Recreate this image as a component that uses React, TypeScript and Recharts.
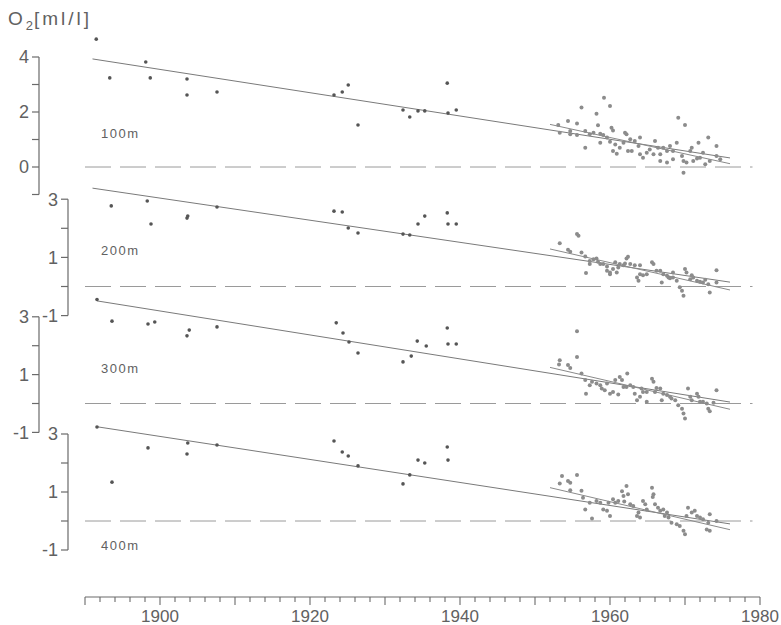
import React from "react";
import { ComposedChart, Scatter, Line, XAxis, YAxis, ReferenceLine } from "recharts";

type Pt = [number, number];

// O2 [ml/l] by year
const early100: Pt[] = [
  [1891.5, 4.65], [1893.3, 3.24], [1898.1, 3.82], [1898.7, 3.24], [1903.6, 3.2],
  [1903.6, 2.62], [1907.6, 2.73], [1923.2, 2.62], [1924.3, 2.73], [1925.1, 2.98],
  [1926.4, 1.53], [1932.4, 2.07], [1933.3, 1.82], [1934.4, 2.04], [1935.3, 2.04],
  [1938.3, 3.05], [1938.4, 1.96], [1939.5, 2.07],
];
const recent100: Pt[] = [
  [1953.1, 1.53], [1954.4, 1.67], [1955.6, 1.58], [1956.2, 2.16], [1958.2, 1.94],
  [1959.2, 2.52], [1960.0, 2.22], [1958.4, 1.52], [1953.3, 1.25], [1954.7, 1.31],
  [1954.7, 1.19], [1955.6, 1.16], [1956.7, 1.31], [1957.3, 1.19], [1957.8, 1.25],
  [1958.7, 1.21], [1959.1, 1.16], [1959.6, 1.07], [1960.2, 1.43], [1960.4, 1.33],
  [1960.0, 0.92], [1960.7, 0.82], [1960.4, 0.58], [1960.9, 0.48], [1961.3, 0.7],
  [1961.8, 0.88], [1962.0, 1.25], [1962.2, 1.19], [1962.7, 1.01], [1962.9, 0.58],
  [1963.3, 0.95], [1964.0, 1.07], [1963.8, 0.76], [1964.4, 0.34], [1964.9, 0.52],
  [1965.3, 0.64], [1966.0, 0.95], [1966.4, 0.7], [1966.7, 0.46], [1966.7, 0.22],
  [1967.1, 0.7], [1967.6, 0.58], [1968.0, 0.76], [1968.4, 0.28], [1968.9, 0.88],
  [1969.1, 1.79], [1969.6, 0.4], [1969.8, 0.22], [1970.0, 1.53], [1970.2, 0.16],
  [1970.7, 0.58], [1970.9, 0.7], [1971.1, 0.22], [1971.6, 0.31], [1971.8, 0.88],
  [1972.0, 0.34], [1972.4, 0.52], [1972.7, 0.1], [1973.1, 1.07], [1973.3, 0.22],
  [1974.2, 0.76], [1974.2, 0.4], [1974.7, 0.28], [1969.8, -0.21], [1956.7, 0.7],
  [1958.7, 0.88], [1962.4, 0.58], [1964.0, 0.46], [1965.8, 0.46], [1967.6, 0.16],
  [1968.4, 0.58],
];
const trend100: Pt[] = [[1891, 3.93], [1976, 0.33]];
const recentTrend100: Pt[] = [[1952, 1.55], [1976, 0.12]];

const early200: Pt[] = [
  [1893.5, 2.77], [1898.3, 2.94], [1898.8, 2.15], [1903.6, 2.35], [1903.7, 2.42],
  [1907.6, 2.73], [1923.2, 2.59], [1924.3, 2.56], [1925.1, 2.01], [1926.4, 1.84],
  [1932.4, 1.8], [1933.3, 1.77], [1935.3, 2.42], [1934.4, 2.15], [1938.3, 2.53],
  [1938.4, 2.15], [1939.5, 2.15],
];
const recent200: Pt[] = [
  [1953.3, 1.49], [1955.6, 1.8], [1955.8, 1.74], [1954.4, 1.26], [1954.7, 1.19],
  [1956.2, 1.17], [1956.7, 1.03], [1957.3, 0.88], [1957.3, 0.77], [1957.8, 0.94],
  [1958.2, 0.96], [1958.4, 0.85], [1958.7, 0.77], [1959.1, 0.77], [1959.6, 0.69],
  [1959.6, 0.54], [1960.0, 0.48], [1960.4, 0.6], [1960.7, 0.83], [1960.9, 0.48],
  [1961.1, 0.65], [1961.3, 0.77], [1961.8, 0.73], [1962.2, 0.96], [1962.4, 1.02],
  [1962.0, 0.79], [1962.7, 0.77], [1963.3, 0.73], [1964.0, 0.73], [1963.6, 0.31],
  [1963.8, 0.2], [1964.4, 0.39], [1964.9, 0.42], [1965.6, 0.83], [1965.8, 0.77],
  [1966.2, 0.54], [1966.7, 0.54], [1967.1, 0.42], [1966.9, 0.14], [1967.6, 0.37],
  [1967.8, 0.31], [1968.0, 0.28], [1968.4, 0.31], [1968.9, 0.2], [1969.3, -0.03],
  [1969.6, -0.15], [1969.8, -0.32], [1970.0, 0.6], [1970.2, 0.48], [1970.7, 0.25],
  [1971.1, 0.31], [1971.6, 0.2], [1972.0, 0.16], [1972.4, 0.14], [1973.1, 0.08],
  [1973.3, -0.21], [1974.2, 0.56], [1974.2, 0.14], [1956.8, 0.46], [1960.0, 0.42],
  [1964.0, 0.42], [1968.4, 0.48], [1970.9, 0.39], [1972.7, 0.23],
];
const trend200: Pt[] = [[1891, 3.38], [1976, 0.15]];
const recentTrend200: Pt[] = [[1952, 1.29], [1976, -0.12]];

const early300: Pt[] = [
  [1891.6, 3.6], [1893.6, 2.85], [1898.4, 2.75], [1899.3, 2.82], [1903.6, 2.34],
  [1903.9, 2.54], [1907.6, 2.65], [1923.5, 2.79], [1924.4, 2.44], [1925.2, 2.13],
  [1926.4, 1.75], [1932.4, 1.44], [1933.5, 1.64], [1934.3, 2.16], [1935.5, 1.99],
  [1938.3, 2.61], [1938.4, 2.06], [1939.5, 2.06],
];
const recent300: Pt[] = [
  [1955.6, 2.5], [1955.6, 1.61], [1953.3, 1.5], [1953.2, 1.35], [1954.4, 1.33],
  [1954.7, 1.23], [1956.2, 1.04], [1956.7, 0.81], [1956.8, 0.34], [1957.3, 0.63],
  [1957.6, 0.75], [1958.2, 0.69], [1958.7, 0.63], [1958.9, 0.52], [1959.3, 0.46],
  [1959.6, 0.69], [1960.0, 0.34], [1960.4, 0.4], [1960.7, 0.81], [1961.1, 0.31],
  [1961.3, 0.92], [1961.6, 0.81], [1961.8, 0.57], [1962.2, 0.57], [1962.3, 1.04],
  [1962.7, 0.63], [1963.1, 0.57], [1963.3, 0.34], [1963.6, 0.11], [1964.0, 0.23],
  [1964.2, 0.52], [1964.4, 0.4], [1964.9, 0.4], [1965.6, 0.86], [1965.8, 0.75],
  [1966.0, 0.4], [1966.2, 0.54], [1966.7, 0.52], [1966.9, 0.11], [1967.1, 0.34],
  [1967.6, 0.29], [1968.0, 0.23], [1968.2, 0.17], [1968.7, 0.11], [1969.1, -0.06],
  [1969.6, -0.18], [1969.8, -0.35], [1970.0, -0.52], [1970.4, 0.52], [1970.7, 0.23],
  [1970.9, 0.11], [1971.6, 0.34], [1971.8, 0.23], [1972.0, 0.06], [1972.4, 0.06],
  [1972.9, 0.0], [1973.1, -0.18], [1973.3, -0.27], [1974.2, 0.46], [1973.8, 0.03],
  [1964.9, 0.06],
];
const trend300: Pt[] = [[1891.6, 3.55], [1976, 0.05]];
const recentTrend300: Pt[] = [[1952, 1.25], [1976, -0.2]];

const early400: Pt[] = [
  [1891.6, 3.24], [1893.6, 1.34], [1898.4, 2.52], [1903.7, 2.69], [1903.6, 2.31],
  [1907.6, 2.62], [1923.2, 2.76], [1924.3, 2.38], [1925.1, 2.24], [1926.4, 1.9],
  [1932.4, 1.28], [1933.3, 1.59], [1934.4, 2.1], [1935.3, 2.0], [1938.3, 2.55],
  [1938.4, 2.1],
];
const recent400: Pt[] = [
  [1953.6, 1.55], [1955.6, 1.59], [1953.3, 1.29], [1954.4, 1.38], [1954.7, 1.32],
  [1954.7, 1.06], [1956.2, 1.04], [1956.4, 0.8], [1956.7, 0.4], [1957.3, 0.63],
  [1957.6, 0.09], [1958.2, 0.69], [1958.7, 0.63], [1959.1, 0.4], [1959.6, 0.35],
  [1959.8, 0.63], [1960.0, 0.17], [1960.4, 0.75], [1960.7, 0.63], [1961.1, 0.69],
  [1961.6, 1.03], [1961.8, 0.86], [1962.2, 1.21], [1962.4, 0.92], [1961.9, 0.67],
  [1962.7, 0.58], [1963.1, 0.52], [1963.6, 0.17], [1963.8, 0.29], [1964.0, 0.12],
  [1964.4, 0.69], [1964.7, 0.58], [1964.9, 0.4], [1965.6, 1.15], [1965.8, 0.92],
  [1965.7, 0.83], [1966.0, 0.58], [1966.4, 0.46], [1966.7, 0.35], [1967.1, 0.4],
  [1967.3, 0.17], [1967.6, 0.29], [1967.8, 0.12], [1968.2, -0.06], [1968.9, -0.11],
  [1969.3, -0.17], [1969.8, -0.34], [1970.0, -0.46], [1970.2, 0.17], [1970.4, 0.46],
  [1970.9, 0.29], [1971.3, 0.35], [1971.6, 0.17], [1972.0, 0.12], [1972.4, 0.06],
  [1972.9, -0.29], [1973.1, -0.06], [1973.3, -0.34], [1973.3, 0.23], [1974.2, 0.0],
];
const trend400: Pt[] = [[1891.6, 3.25], [1976, -0.1]];
const recentTrend400: Pt[] = [[1952, 1.15], [1976, -0.3]];

const yTicks100 = [-1, 0, 1, 2, 3, 4];
const yLabels100 = [0, 2, 4];
const yTicksDeep = [-1, 0, 1, 2, 3];
const yLabelsDeep = [-1, 1, 3];
const yearTicks = Array.from({ length: 46 }, (_, i) => 1890 + i * 2);

const W = 781;
const H = 625;
const YEAR_START = 1890;
const YEAR_END = 1980;
const PLOT_LEFT = 85;
const PLOT_RIGHT = 760;
const PX_PER_YEAR = (PLOT_RIGHT - PLOT_LEFT) / (YEAR_END - YEAR_START);
const AXIS_W = 36;
const FONT = "'Liberation Sans', Arial, sans-serif";
const TEXT = "#616161";
const INK = "#6a6a6a";
const toRows = (pts: Pt[]) => pts.map(([year, o2]) => ({ year, o2 }));

type PanelProps = {
  early: Pt[];
  recent: Pt[];
  trend: Pt[];
  recentTrend: Pt[];
  axisX: number; // pixel x of this panel's y axis
  y0: number; // pixel y of O2 = 0
  unit: number; // pixels per ml/l
  hi: number;
  ticks: number[];
  labels: number[];
};

function Panel({ early, recent, trend, recentTrend, axisX, y0, unit, hi, ticks, labels }: PanelProps) {
  const xMin = YEAR_START - (PLOT_LEFT - axisX) / PX_PER_YEAR;
  const top = y0 - hi * unit;
  const bottom = y0 + unit;
  const axisTop = ticks[ticks.length - 1];
  return (
    <div style={{ position: "absolute", left: 0, top: 0 }}>
      <ComposedChart
        width={W}
        height={H}
        margin={{ top, bottom: H - bottom, left: axisX - AXIS_W, right: W - PLOT_RIGHT }}
      >
        <XAxis type="number" dataKey="year" domain={[xMin, YEAR_END]} hide />
        <YAxis
          type="number"
          dataKey="o2"
          domain={[-1, hi]}
          ticks={ticks}
          interval={0}
          width={AXIS_W}
          axisLine={false}
          tickSize={7}
          tickMargin={3}
          tickLine={{ stroke: INK, strokeWidth: 1.2 }}
          tick={{ fontSize: 18, fill: TEXT, fontFamily: FONT }}
          tickFormatter={(v: number) => (labels.includes(v) ? String(v) : "")}
        />
        <ReferenceLine
          segment={[{ x: xMin, y: -1 }, { x: xMin, y: axisTop }]}
          stroke={INK}
          strokeWidth={1.2}
          ifOverflow="visible"
        />
        <ReferenceLine
          segment={[{ x: 1890, y: 0 }, { x: 1979, y: 0 }]}
          stroke="#9a9a9a"
          strokeDasharray="26 9"
          ifOverflow="visible"
        />
        <Line data={toRows(trend)} dataKey="o2" type="linear" stroke="#7a7a7a" strokeWidth={1} dot={false} isAnimationActive={false} />
        <Line data={toRows(recentTrend)} dataKey="o2" type="linear" stroke="#8a8a8a" strokeWidth={1} dot={false} isAnimationActive={false} />
        <Scatter
          data={toRows(early)}
          dataKey="o2"
          isAnimationActive={false}
          shape={(p: any) => <circle cx={p.cx} cy={p.cy} r={1.8} fill="#555" />}
        />
        <Scatter
          data={toRows(recent)}
          dataKey="o2"
          isAnimationActive={false}
          shape={(p: any) => <circle cx={p.cx} cy={p.cy} r={2} fill="#8c8c8c" />}
        />
      </ComposedChart>
    </div>
  );
}

const YearTick = (p: any) => {
  const v = p.payload.value;
  return (
    <g>
      <line x1={p.x} y1={p.y} x2={p.x} y2={p.y + (v % 10 === 0 ? 8 : 5)} stroke={INK} strokeWidth={1.1} />
      {v % 20 === 0 && (
        <text x={p.x} y={p.y + 25} textAnchor="middle" fontSize={17} fill={TEXT} fontFamily={FONT}>
          {v}
        </text>
      )}
    </g>
  );
};

const depthStyle = (top: number): React.CSSProperties => ({
  position: "absolute",
  left: 101,
  top,
  fontSize: 13,
  lineHeight: "16px",
  letterSpacing: 1.5,
  color: TEXT,
  fontFamily: FONT,
});

export default function App() {
  return (
    <div style={{ position: "absolute", left: 0, top: 0, width: W, height: H, background: "#fff", overflow: "hidden" }}>
      <Panel early={early100} recent={recent100} trend={trend100} recentTrend={recentTrend100}
        axisX={39} y0={167} unit={27.5} hi={4.8} ticks={yTicks100} labels={yLabels100} />
      <Panel early={early200} recent={recent200} trend={trend200} recentTrend={recentTrend200}
        axisX={68} y0={286.5} unit={29.1} hi={3.6} ticks={yTicksDeep} labels={yLabelsDeep} />
      <Panel early={early300} recent={recent300} trend={trend300} recentTrend={recentTrend300}
        axisX={39} y0={403.5} unit={28.9} hi={3.7} ticks={yTicksDeep} labels={yLabelsDeep} />
      <Panel early={early400} recent={recent400} trend={trend400} recentTrend={recentTrend400}
        axisX={68} y0={521} unit={29} hi={3.6} ticks={yTicksDeep} labels={yLabelsDeep} />

      <div style={{ position: "absolute", left: 0, top: 0 }}>
        <ComposedChart width={W} height={H} data={yearTicks.map((year) => ({ year }))}
          margin={{ top: 570, bottom: 0, left: PLOT_LEFT, right: W - PLOT_RIGHT }}>
          <XAxis
            type="number"
            dataKey="year"
            domain={[YEAR_START, YEAR_END]}
            ticks={yearTicks}
            interval={0}
            height={28}
            tickSize={0}
            tickMargin={0}
            tickLine={false}
            axisLine={{ stroke: INK, strokeWidth: 1.2 }}
            tick={(p: any) => <YearTick {...p} />}
          />
        </ComposedChart>
      </div>

      <div style={{ position: "absolute", left: 8, top: 9, fontSize: 19, lineHeight: "20px", letterSpacing: 3, color: TEXT, fontFamily: FONT }}>
        O<sub style={{ fontSize: 13, letterSpacing: 1 }}>2</sub>[ml/l]
      </div>
      <div style={depthStyle(126)}>100m</div>
      <div style={depthStyle(243)}>200m</div>
      <div style={depthStyle(361)}>300m</div>
      <div style={depthStyle(538)}>400m</div>
    </div>
  );
}
